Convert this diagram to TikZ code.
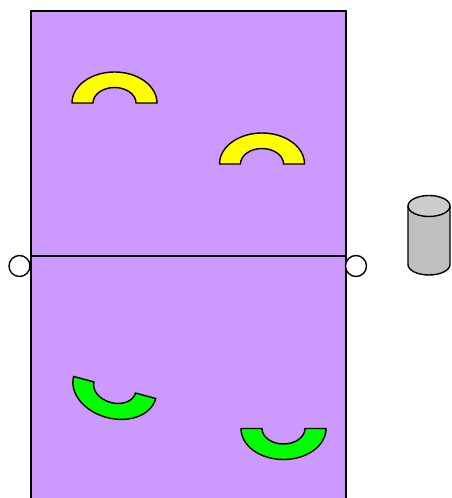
\documentclass[tikz,border=0pt]{standalone}
\usepackage{tikz}
\usetikzlibrary{calc}
\usepackage{xcolor}
\definecolor{lilac}{RGB}{204,153,255}
\definecolor{ringyel}{RGB}{255,255,0}
\definecolor{ringgrn}{RGB}{0,255,0}
\definecolor{cylbody}{RGB}{192,192,192}
\definecolor{cyltop}{RGB}{204,204,204}

\begin{document}
\begin{tikzpicture}[x=1pt,y=1pt,line width=1.4pt,
    ring/.style={draw=black,line join=miter}]
  \useasboundingbox (0,0) rectangle (451,498);
  % panel
  \fill[lilac] (31,0) rectangle (346,487);
  \draw (31,0) -- (31,487) -- (346,487) -- (346,0);
  \draw (31,242) -- (346,242);
  % side ports
  \draw[fill=white] (19.5,232) circle (10.5);
  \draw[fill=white] (356,232) circle (10.5);
  % half rings
  \foreach \cx/\cy/\rot/\col in {
    114.5/395/0/ringyel,
    262/334/0/ringyel,
    114.7/110.5/165/ringgrn,
    283.5/69.5/180/ringgrn}{
    \draw[ring,fill=\col,shift={(\cx,\cy)},rotate=\rot]
      (-42.5,0) arc (180:0:42.5 and 31) -- (21.5,0)
      arc (0:180:21.5 and 15.5) -- cycle;
  }
  % cylinder
  \draw[fill=cylbody] (408,292) -- (408,233.5) arc (180:360:21 and 10.5)
    -- (450,292);
  \draw[fill=cyltop] (429,292) ellipse (21 and 10.5);
\end{tikzpicture}
\end{document}
